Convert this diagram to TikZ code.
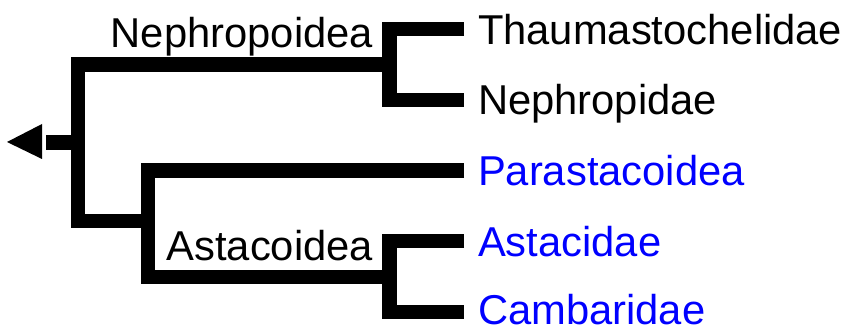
\documentclass[tikz,border=0pt]{standalone}
\usepackage{fontspec}
\setmainfont{Liberation Sans}
\begin{document}
\begin{tikzpicture}[x=0.75pt,y=-0.75pt,
  branch/.style={line width=11pt,line join=miter,line cap=butt},
  lbl/.style={font=\fontsize{31.3pt}{34pt}\selectfont,inner sep=0pt,outer sep=0pt},
  leaf/.style={lbl,anchor=base west},
  clade/.style={lbl,anchor=base east},
  grp/.style={text=blue}]
\useasboundingbox (0,0) rectangle (847,328);
% internal nodes
\coordinate (root) at (78,142.5);
\coordinate (stubend) at (46,142.5);
\coordinate (nep) at (389.5,64.5);
\coordinate (astd) at (148,221);
\coordinate (ast) at (389.5,277);
% leaf attachment points
\coordinate (t1) at (464,29);
\coordinate (t2) at (464,100);
\coordinate (t3) at (464,170.5);
\coordinate (t4) at (464,241);
\coordinate (t5) at (464,312);
% leaf labels
\node[leaf] (thaum) at (478,44.5) {Thaumastochelidae};
\node[leaf] (nephr) at (478,115) {Nephropidae};
\node[leaf,grp] (paras) at (478,185.5) {Parastacoidea};
\node[leaf,grp] (astac) at (478,256) {Astacidae};
\node[leaf,grp] (camb) at (478,324) {Cambaridae};
% clade labels
\node[clade] (nepl) at (373,48) {Nephropoidea};
\node[clade] (astl) at (373,260) {Astacoidea};
% branches
\coordinate (rt) at (root |- nep);
\draw[branch] ([xshift=5.4pt]nep) -- (rt) -- (root |- astd) -- ([xshift=5.4pt]astd);
\draw[branch] (t1) -- (nep |- t1) -- (nep |- t2) -- (t2);
\draw[branch] (t3) -- (astd |- t3) -- (astd |- ast) -- ([xshift=5.4pt]ast);
\draw[branch] (t4) -- (ast |- t4) -- (ast |- t5) -- (t5);
\draw[branch] (stubend) -- ([xshift=-5pt]root);
% root arrow
\fill (7,142) -- (42,124) -- (42,159) -- cycle;
\end{tikzpicture}
\end{document}
